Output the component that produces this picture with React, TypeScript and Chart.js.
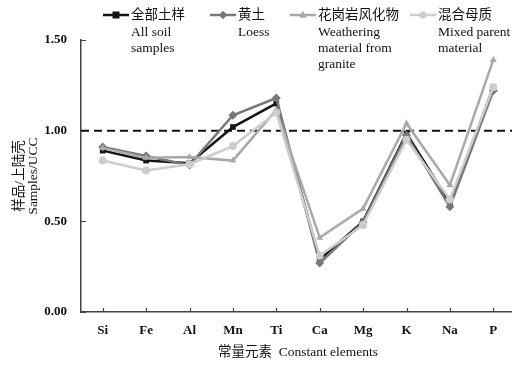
import React, { useEffect, useRef } from 'react';
import { Chart, registerables } from 'chart.js';

Chart.register(...registerables);

const elements = ['Si', 'Fe', 'Al', 'Mn', 'Ti', 'Ca', 'Mg', 'K', 'Na', 'P'];
const allSoil = [0.89, 0.835, 0.82, 1.02, 1.15, 0.29, 0.5, 0.985, 0.6, 1.24];
const loess = [0.91, 0.86, 0.81, 1.085, 1.18, 0.27, 0.495, 0.975, 0.58, 1.22];
const granite = [0.905, 0.85, 0.855, 0.835, 1.115, 0.41, 0.57, 1.04, 0.7, 1.39];
const mixed = [0.835, 0.78, 0.815, 0.915, 1.1, 0.31, 0.48, 0.95, 0.62, 1.24];
const yTicks = [0, 0.5, 1.0, 1.5];
const referenceLine = 1.0;
const legendLabels = [
  ['全部土样', 'All soil', 'samples'],
  ['黄土', 'Loess'],
  ['花岗岩风化物', 'Weathering', 'material from', 'granite'],
  ['混合母质', 'Mixed parent', 'material'],
];
const yTitle = ['样品/上陆壳', 'Samples/UCC'];
const xTitle = '常量元素  Constant elements';

const SERIF = "'Liberation Serif', 'Noto Sans CJK SC', serif";
const colors = ['#151515', '#787878', '#a9a9a9', '#cdcdcd'];
const styles = ['rect', 'rectRot', 'triangle', 'circle'];
const legendX = [103, 210, 290, 410];

function marker(ctx: CanvasRenderingContext2D, style: string, x: number, y: number, r: number, color: string) {
  ctx.save();
  ctx.fillStyle = color;
  ctx.beginPath();
  if (style === 'rect') {
    ctx.rect(x - r, y - r, 2 * r, 2 * r);
  } else if (style === 'rectRot') {
    ctx.moveTo(x, y - r * 1.2);
    ctx.lineTo(x + r * 1.2, y);
    ctx.lineTo(x, y + r * 1.2);
    ctx.lineTo(x - r * 1.2, y);
    ctx.closePath();
  } else if (style === 'triangle') {
    ctx.moveTo(x, y - r * 1.2);
    ctx.lineTo(x + r * 1.1, y + r * 0.8);
    ctx.lineTo(x - r * 1.1, y + r * 0.8);
    ctx.closePath();
  } else {
    ctx.arc(x, y, r, 0, Math.PI * 2);
  }
  ctx.fill();
  ctx.restore();
}

const decorPlugin = {
  id: 'decor',
  beforeDatasetsDraw(chart: any) {
    const { ctx, chartArea } = chart;
    const y = chart.scales.y.getPixelForValue(referenceLine);
    ctx.save();
    ctx.strokeStyle = '#111';
    ctx.lineWidth = 2;
    ctx.setLineDash([8, 5]);
    ctx.beginPath();
    ctx.moveTo(chartArea.left, y);
    ctx.lineTo(chartArea.right, y);
    ctx.stroke();
    ctx.restore();
  },
  afterDraw(chart: any) {
    const { ctx, chartArea } = chart;
    const xs = chart.scales.x;
    const ys = chart.scales.y;
    ctx.save();
    ctx.strokeStyle = '#444';
    ctx.lineWidth = 1.2;
    ctx.beginPath();
    for (let i = 0; i < elements.length; i++) {
      const px = Math.round(xs.getPixelForTick(i)) + 0.5;
      ctx.moveTo(px, chartArea.bottom);
      ctx.lineTo(px, chartArea.bottom - 4);
    }
    for (const v of yTicks) {
      const py = Math.round(ys.getPixelForValue(v)) + 0.5;
      ctx.moveTo(chartArea.left, py);
      ctx.lineTo(chartArea.left + 5, py);
    }
    ctx.stroke();
    ctx.restore();

    // legend
    ctx.save();
    ctx.font = `13.5px ${SERIF}`;
    ctx.textBaseline = 'middle';
    ctx.fillStyle = '#111';
    legendLabels.forEach((lines, i) => {
      const x0 = legendX[i];
      const y0 = 15;
      ctx.strokeStyle = colors[i];
      ctx.lineWidth = 2.5;
      ctx.beginPath();
      ctx.moveTo(x0, y0);
      ctx.lineTo(x0 + 26, y0);
      ctx.stroke();
      marker(ctx, styles[i], x0 + 13, y0, 3.5, colors[i]);
      ctx.fillStyle = '#111';
      lines.forEach((t, j) => {
        const yy = j === 0 ? y0 : 32 + (j - 1) * 16.2;
        ctx.fillText(t, x0 + 28, yy);
      });
    });
    ctx.restore();
  },
};

export default function App() {
  const ref = useRef<HTMLCanvasElement>(null);
  useEffect(() => {
    const canvas = ref.current;
    if (!canvas) return;
    const series = [allSoil, loess, granite, mixed];
    const chart = new Chart(canvas, {
      type: 'line',
      data: {
        labels: elements,
        datasets: series.map((d, i) => ({
          label: legendLabels[i][0],
          data: d,
          borderColor: colors[i],
          backgroundColor: colors[i],
          borderWidth: 2.5,
          pointStyle: styles[i] as any,
          pointRadius: i === 1 ? 4.5 : 4,
          pointBorderWidth: 0,
          tension: 0,
          order: 4 - i,
        })),
      },
      options: {
        responsive: false,
        animation: false,
        events: [],
        layout: { padding: { left: 0, right: 15, top: 40, bottom: 0 } },
        plugins: { legend: { display: false }, tooltip: { enabled: false } },
        scales: {
          x: {
            type: 'category',
            offset: true,
            grid: { display: true, drawOnChartArea: false, drawTicks: false },
            border: { display: true, color: '#444', width: 1.5 },
            ticks: { padding: 11, color: '#111', font: { family: SERIF, size: 13, weight: 'bold' } },
            title: {
              display: true,
              text: xTitle,
              color: '#111',
              font: { family: SERIF, size: 13.5 },
              padding: { top: 0, bottom: 4 },
            },
            afterFit: (s: any) => { s.height = 53; },
          },
          y: {
            min: 0,
            max: 1.5,
            grid: { display: true, drawOnChartArea: false, drawTicks: false },
            border: { display: true, color: '#444', width: 1.5 },
            afterBuildTicks: (s: any) => { s.ticks = yTicks.map((v) => ({ value: v })); },
            ticks: {
              padding: 14,
              color: '#111',
              font: { family: SERIF, size: 13, weight: 'bold' },
              callback: (v: any) => Number(v).toFixed(2),
            },
            title: {
              display: true,
              text: yTitle,
              color: '#111',
              font: { family: SERIF, size: 13.5, lineHeight: 1.05 },
              padding: { top: 12, bottom: 0 },
            },
            afterFit: (s: any) => { s.width = 81; },
          },
        },
      },
      plugins: [decorPlugin],
    });
    return () => chart.destroy();
  }, []);
  return (
    <div style={{ position: 'absolute', left: 0, top: 0, width: 512, height: 365, overflow: 'hidden', background: '#fff' }}>
      <canvas ref={ref} width={530} height={365} style={{ display: 'block' }} />
    </div>
  );
}
